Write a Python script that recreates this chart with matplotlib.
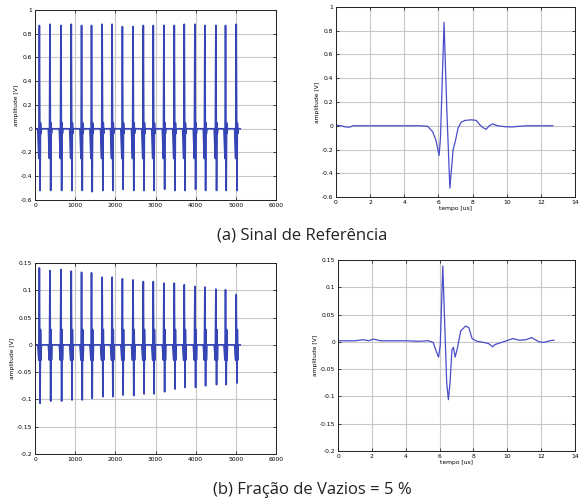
import matplotlib
matplotlib.use("Agg")
import matplotlib.pyplot as plt
import numpy as np

# ---------------- data ----------------
# (a) reference signal: pulse positions (sample index) in the concatenated record
pulse_pos = [109, 372, 645, 903, 1159, 1407, 1672, 1920, 2176, 2441,
             2697, 2945, 3209, 3468, 3716, 3980, 4229, 4502, 4743, 5010]
ref_peaks = [0.87, 0.88, 0.87, 0.88, 0.87, 0.87, 0.88, 0.88, 0.86, 0.86,
             0.87, 0.87, 0.87, 0.87, 0.88, 0.88, 0.87, 0.87, 0.87, 0.88]
ref_troughs = [-0.52, -0.52, -0.52, -0.52, -0.52, -0.53, -0.52, -0.52, -0.51, -0.52,
               -0.52, -0.52, -0.51, -0.52, -0.52, -0.51, -0.52, -0.52, -0.52, -0.52]
ref_predip = [-0.25, -0.25, -0.25, -0.25, -0.25, -0.25, -0.25, -0.25, -0.25, -0.25,
              -0.25, -0.25, -0.25, -0.25, -0.25, -0.25, -0.25, -0.25, -0.25, -0.25]
ref_ring = [0.05, -0.04]

# (b) void fraction 5 %
void_peaks = [0.141, 0.136, 0.138, 0.135, 0.133, 0.132, 0.124, 0.124, 0.121, 0.119,
              0.116, 0.116, 0.113, 0.113, 0.110, 0.107, 0.106, 0.102, 0.101, 0.092]
void_troughs = [-0.107, -0.103, -0.103, -0.101, -0.101, -0.098, -0.095, -0.095, -0.092, -0.093,
                -0.090, -0.090, -0.086, -0.081, -0.078, -0.078, -0.075, -0.073, -0.073, -0.070]
void_predip = [-0.028] * 20
void_ring = [0.028, -0.028]
record_end = 5110

# single waveform, reference (time in us, amplitude in V)
ref_t = [0.0, 0.3, 0.55, 0.8, 1.0, 2.0, 3.0, 4.0, 4.9, 5.37, 5.66, 5.85, 6.04, 6.12,
         6.33, 6.5, 6.67, 6.86, 6.99, 7.15, 7.33, 7.56, 7.94, 8.22, 8.41, 8.6, 8.79,
         8.98, 9.17, 9.46, 9.9, 10.3, 10.7, 11.2, 12.0, 12.7]
ref_v = [0.005, 0.0, -0.01, -0.012, 0.0, 0.0, 0.0, 0.0, 0.0, -0.005, -0.05, -0.12, -0.25,
         -0.1, 0.87, 0.1, -0.525, -0.2, -0.13, -0.02, 0.03, 0.045, 0.05, 0.045, 0.01,
         -0.015, -0.03, 0.0, 0.015, 0.0, -0.008, -0.01, -0.005, 0.0, 0.0, 0.0]

# single waveform, 5 % voids
void_t = [0.0, 0.5, 1.0, 1.5, 1.8, 2.1, 2.5, 3.0, 3.5, 4.0, 4.75, 5.33, 5.62, 5.81, 5.94,
          6.04, 6.19, 6.42, 6.52, 6.62, 6.73, 6.82, 6.92, 7.05, 7.25, 7.54, 7.73, 7.92,
          8.21, 8.6, 8.89, 9.14, 9.27, 9.66, 10.05, 10.33, 10.72, 11.11, 11.45, 11.59,
          11.88, 12.17, 12.5, 12.75]
void_v = [0.002, 0.002, 0.002, 0.004, 0.002, 0.005, 0.002, 0.002, 0.002, 0.002, 0.001,
          0.002, -0.001, -0.018, -0.028, -0.006, 0.139, -0.074, -0.106, -0.074, -0.015,
          -0.01, -0.028, -0.012, 0.02, 0.029, 0.026, 0.006, 0.001, -0.001, -0.003,
          -0.009, -0.005, -0.001, 0.003, 0.006, 0.003, 0.004, 0.008, 0.005, 0.0,
          -0.001, 0.002, 0.003]

captions = ["(a) Sinal de Referência", "(b) Fração de Vazios = 5 %"]


def build_record(pos, pre, pk, tr, ring, end):
    xs, ys = [0], [0.0]
    for c, p, a, b in zip(pos, pre, pk, tr):
        xs += [c - 40, c - 14, c, c + 18, c + 28, c + 38, c + 50]
        ys += [0.0, p, a, b, ring[0], ring[1], 0.0]
    xs.append(end)
    ys.append(0.0)
    return xs, ys


# ---------------- figure ----------------
fig = plt.figure(figsize=(5.8, 5.04), dpi=100)
W, H = 580, 504


def add_ax(l, t, r, b):
    return fig.add_axes([l / W, 1 - b / H, (r - l) / W, (b - t) / H])


ax_tl = add_ax(35, 10, 276, 200)
ax_tr = add_ax(336, 7, 575, 197)
ax_bl = add_ax(35, 263, 276, 454)
ax_br = add_ax(338, 260, 575, 451)

line_dark = "#3645b6"
line_light = "#4a4cc8"
tick_fs = 4.3


def style(ax):
    ax.grid(True, color="#c8c8c8", linewidth=0.8)
    ax.set_axisbelow(True)
    ax.tick_params(direction="in", length=2, width=0.5, labelsize=tick_fs, pad=2,
                   top=True, right=True)
    for s in ax.spines.values():
        s.set_linewidth(0.7)
        s.set_color("#222222")
    ax.set_ylabel("amplitude [V]", fontsize=tick_fs, labelpad=1)


# top-left
x, y = build_record(pulse_pos, ref_predip, ref_peaks, ref_troughs, ref_ring, record_end)
ax_tl.plot(x, y, color=line_dark, lw=1.2)
ax_tl.set_xlim(0, 6000)
ax_tl.set_ylim(-0.6, 1.0)
ax_tl.set_xticks(np.arange(0, 6001, 1000))
ax_tl.set_yticks(np.arange(-0.6, 1.01, 0.2))
ax_tl.set_yticklabels(["-0.6", "-0.4", "-0.2", "0", "0.2", "0.4", "0.6", "0.8", "1"])
style(ax_tl)

# top-right
ax_tr.plot(ref_t, ref_v, color=line_light, lw=0.9)
ax_tr.set_xlim(0, 14)
ax_tr.set_ylim(-0.6, 1.0)
ax_tr.set_xticks(np.arange(0, 15, 2))
ax_tr.set_yticks(np.arange(-0.6, 1.01, 0.2))
ax_tr.set_yticklabels(["-0.6", "-0.4", "-0.2", "0", "0.2", "0.4", "0.6", "0.8", "1"])
style(ax_tr)
ax_tr.set_xlabel("tempo [us]", fontsize=tick_fs, labelpad=1)

# bottom-left
x, y = build_record(pulse_pos, void_predip, void_peaks, void_troughs, void_ring, record_end)
ax_bl.plot(x, y, color=line_dark, lw=1.2)
ax_bl.set_xlim(0, 6000)
ax_bl.set_ylim(-0.2, 0.15)
ax_bl.set_xticks(np.arange(0, 6001, 1000))
ax_bl.set_yticks(np.arange(-0.2, 0.151, 0.05))
ax_bl.set_yticklabels(["-0.2", "-0.15", "-0.1", "-0.05", "0", "0.05", "0.1", "0.15"])
style(ax_bl)

# bottom-right
ax_br.plot(void_t, void_v, color=line_light, lw=0.9)
ax_br.set_xlim(0, 14)
ax_br.set_ylim(-0.2, 0.15)
ax_br.set_xticks(np.arange(0, 15, 2))
ax_br.set_yticks(np.arange(-0.2, 0.151, 0.05))
ax_br.set_yticklabels(["-0.2", "-0.15", "-0.1", "-0.05", "0", "0.05", "0.1", "0.15"])
style(ax_br)
ax_br.set_xlabel("tempo [us]", fontsize=tick_fs, labelpad=1)

fig.text(302 / W, 1 - 236 / H, captions[0], ha="center", va="center",
         fontsize=12, family="Open Sans", color="#222222")
fig.text(312 / W, 1 - 490 / H, captions[1], ha="center", va="center",
         fontsize=12, family="Open Sans", color="#222222")

fig.savefig("out.png", dpi=100)
